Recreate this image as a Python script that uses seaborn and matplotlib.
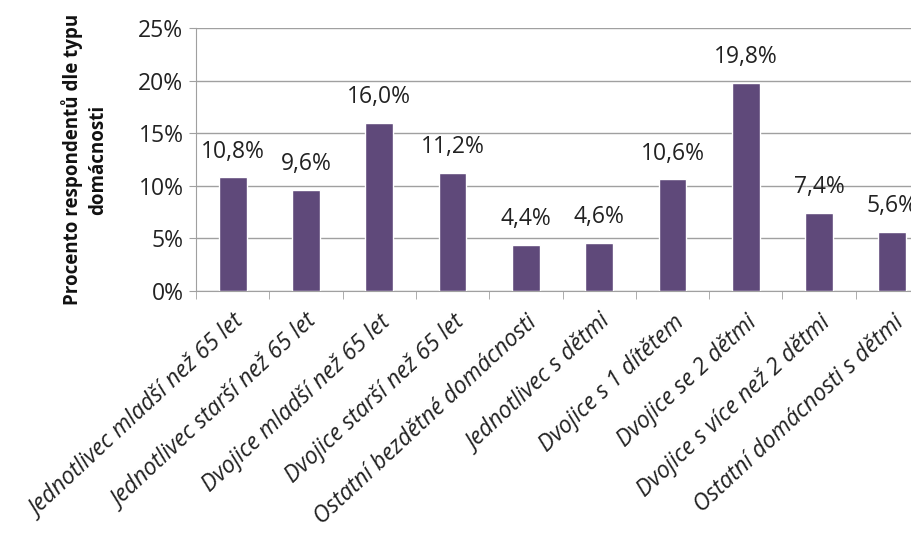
import numpy as np
import pandas as pd
import matplotlib
matplotlib.use('Agg')
import matplotlib.pyplot as plt
import seaborn as sns

# Data
kategorie = ['Jednotlivec mladší než 65 let', 'Jednotlivec starší než 65 let',
             'Dvojice mladší než 65 let', 'Dvojice starší než 65 let',
             'Ostatní bezdětné domácnosti', 'Jednotlivec s dětmi',
             'Dvojice s 1 dítětem', 'Dvojice se 2 dětmi',
             'Dvojice s více než 2 dětmi', 'Ostatní domácnosti s dětmi']
procenta = [10.8, 9.6, 16.0, 11.2, 4.4, 4.6, 10.6, 19.8, 7.4, 5.6]
y_ticks = [0, 5, 10, 15, 20, 25]

df = pd.DataFrame({'kategorie': kategorie, 'procenta': procenta})

sns.set_style('white')
plt.rcParams['font.family'] = ['Open Sans', 'DejaVu Sans']

fig = plt.figure(figsize=(9.12, 5.47), dpi=100)
ax = fig.add_axes([196 / 912, 1 - 291 / 547, 733 / 912, 263 / 547])

sns.barplot(data=df, x='kategorie', y='procenta', color='#5F497A',
            width=0.38, saturation=1, ax=ax, zorder=3)

ax.set_ylim(0, 25)
ax.set_xlim(-0.5, len(kategorie) - 0.5)
ax.set_yticks(y_ticks)
ax.set_yticklabels([f'{t}%' for t in y_ticks], fontsize=16.5, color='#222222')
ax.yaxis.grid(True, color='#a0a0a0', linewidth=1, zorder=0)
ax.tick_params(axis='y', length=5, color='#a0a0a0', direction='out', left=True, pad=4)

# popisky osy x a tiky mezi kategoriemi
ax.set_xticks(range(len(kategorie)))
ax.set_xticklabels(kategorie, rotation=43, ha='right', rotation_mode='anchor',
                   fontsize=16.5, style='italic', color='#222222')
ax.tick_params(axis='x', length=0, pad=14)
ax.set_xticks(np.arange(-0.5, len(kategorie), 1), minor=True)
ax.tick_params(axis='x', which='minor', length=6, color='#a0a0a0', direction='out', bottom=True)

for s in ['top', 'right']:
    ax.spines[s].set_visible(False)
for s in ['left', 'bottom']:
    ax.spines[s].set_color('#a0a0a0')

ax.set_xlabel('')
ax.set_ylabel('Procento respondentů dle typu\ndomácnosti', fontsize=13.5,
              fontweight='bold', labelpad=22, color='#111111', linespacing=1.3)

# hodnoty nad sloupci
for i, v in enumerate(procenta):
    ax.text(i, v + 1.3, f'{v:.1f}%'.replace('.', ','), ha='center', va='bottom',
            fontsize=16.5, color='#222222')

plt.savefig('out.png', dpi=100)
